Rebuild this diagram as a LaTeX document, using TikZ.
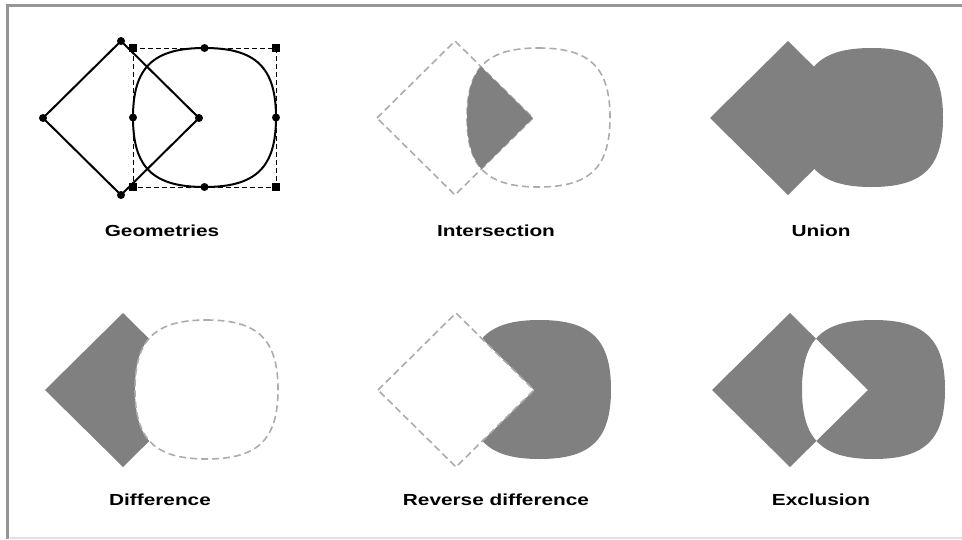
\documentclass[tikz,border=0pt]{standalone}
\usepackage{fontspec}
\setmainfont{Liberation Sans}
\usetikzlibrary{positioning}

\definecolor{opgray}{RGB}{128,128,128}
\definecolor{ghost}{RGB}{172,172,172}
\definecolor{rimgray}{RGB}{150,150,150}
\definecolor{rimlight}{RGB}{225,225,225}

% the two operands, in panel coordinates
\newcommand{\diampath}{(43,118) -- (121,41) -- (199,118) -- (121,195) -- cycle}
\newcommand{\blobpath}{(204.5,48) .. controls (256,48) and (276,67.5) .. (276,117.5)
    .. controls (276,167.5) and (256,187) .. (204.5,187)
    .. controls (153,187) and (133,167.5) .. (133,117.5)
    .. controls (133,67.5) and (153,48) .. (204.5,48) -- cycle}
\newcommand{\wide}[1]{\scalebox{1.3}[1]{#1}}

\begin{document}
\begin{tikzpicture}[
    x=1pt, y=-1pt,
    outline/.style={draw=black, line width=2pt, line join=miter},
    bbox/.style={draw=black, line width=1pt, dash pattern=on 5pt off 3pt},
    ghostline/.style={draw=ghost, line width=1.6pt, dash pattern=on 7pt off 4pt},
    result/.style={fill=opgray},
    hole/.style={fill=white},
    handle/.style={circle, fill=black, inner sep=0pt, minimum size=8pt},
    cornerhandle/.style={rectangle, fill=black, inner sep=0pt, minimum size=8pt},
    lbl/.style={font=\bfseries\fontsize{16}{18}\selectfont, inner sep=0pt}
]
    \useasboundingbox (0,0) rectangle (962,539);

    % window frame
    \draw [rimgray, line width=3pt] (7,539) -- (7,5) -- (962,5);
    \draw [rimlight, line width=1.5pt] (10,538) -- (962,538);

    % Geometries
    \draw [bbox] (133,48) rectangle (276,187);
    \draw [outline] \diampath;
    \draw [outline] \blobpath;
    \foreach \p [count=\i] in {(121,41),(43,118),(199,118),(121,195),
                               (204.5,48),(276,117.5),(204.5,187),(133,117.5)}
        \node [handle] (h\i) at \p {};
    \foreach \p [count=\i] in {(133,48),(276,48),(276,187),(133,187)}
        \node [cornerhandle] (c\i) at \p {};
    \node [lbl] (lgeo) at (162,231) {\wide{Geometries}};

    % Intersection
    \begin{scope}[shift={(334,0)}]
        \draw [ghostline] \diampath;
        \draw [ghostline] \blobpath;
        \begin{scope}
            \clip \diampath;
            \fill [result] \blobpath;
        \end{scope}
    \end{scope}
    \node [lbl] (linter) at (496,231) {\wide{Intersection}};

    % Union
    \begin{scope}[shift={(667,0)}]
        \fill [result] \diampath;
        \fill [result] \blobpath;
    \end{scope}
    \node [lbl] (lunion) at (821,231) {\wide{Union}};

    % Difference
    \begin{scope}[shift={(2,272)}]
        \fill [result] \diampath;
        \fill [hole] \blobpath;
        \draw [ghostline] \blobpath;
    \end{scope}
    \node [lbl] (ldiff) at (160,500) {\wide{Difference}};

    % Reverse difference
    \begin{scope}[shift={(335,272)}]
        \fill [result] \blobpath;
        \fill [hole] \diampath;
        \draw [ghostline] \diampath;
    \end{scope}
    \node [lbl] (lrev) at (496,500) {\wide{Reverse difference}};

    % Exclusion
    \begin{scope}[shift={(669,272)}]
        \fill [result, even odd rule] \diampath \blobpath;
    \end{scope}
    \node [lbl] (lexcl) at (821,500) {\wide{Exclusion}};

\end{tikzpicture}
\end{document}
